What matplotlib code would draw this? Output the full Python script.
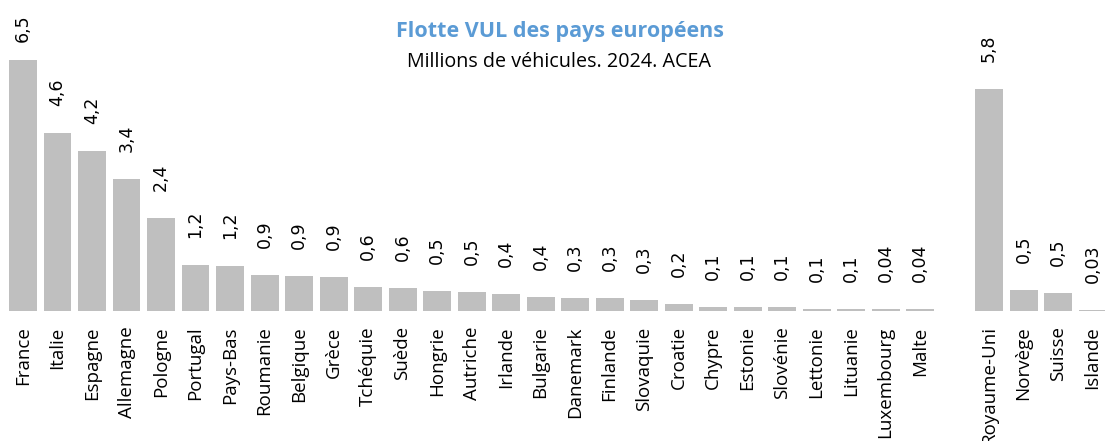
import matplotlib
matplotlib.use("Agg")
import matplotlib.pyplot as plt

# EU countries, then (after a gap) the rest of Europe
pays_ue = ["France", "Italie", "Espagne", "Allemagne", "Pologne", "Portugal", "Pays-Bas",
           "Roumanie", "Belgique", "Grèce", "Tchéquie", "Suède", "Hongrie", "Autriche",
           "Irlande", "Bulgarie", "Danemark", "Finlande", "Slovaquie", "Croatie", "Chypre",
           "Estonie", "Slovénie", "Lettonie", "Lituanie", "Luxembourg", "Malte"]
flotte_ue = [6.5, 4.6, 4.15, 3.42, 2.41, 1.19, 1.17, 0.93, 0.9, 0.88, 0.62, 0.6, 0.52, 0.5,
             0.44, 0.36, 0.34, 0.33, 0.28, 0.18, 0.1, 0.1, 0.1, 0.06, 0.06, 0.04, 0.04]
labels_ue = ["6,5", "4,6", "4,2", "3,4", "2,4", "1,2", "1,2", "0,9", "0,9", "0,9", "0,6", "0,6",
             "0,5", "0,5", "0,4", "0,4", "0,3", "0,3", "0,3", "0,2", "0,1", "0,1", "0,1", "0,1",
             "0,1", "0,04", "0,04"]

pays_hors = ["Royaume-Uni", "Norvège", "Suisse", "Islande"]
flotte_hors = [5.75, 0.54, 0.47, 0.03]
labels_hors = ["5,8", "0,5", "0,5", "0,03"]

W, H = 1105, 441
fig = plt.figure(figsize=(W / 100, H / 100), dpi=100)
base_px = 311
ax = fig.add_axes([0, 1 - base_px / H, 1, base_px / H])

noms = pays_ue + pays_hors
vals = flotte_ue + flotte_hors
labs = labels_ue + labels_hors
xs = list(range(len(pays_ue))) + [len(pays_ue) + 1 + i for i in range(len(pays_hors))]

ax.bar(xs, vals, width=0.81, color="#BFBFBF")
ax.set_xlim(-0.667, 31.36)
ax.set_ylim(0, base_px / 38.6)

for x, v, t in zip(xs, vals, labs):
    off = 18 if v > 6 else 27
    ax.annotate(t, (x, v), xytext=(0, off), textcoords="offset pixels",
                rotation=90, ha="center", va="bottom", fontsize=12.5,
                family="DejaVu Sans", color="black")

ax.set_xticks(xs)
ax.set_xticklabels(noms, rotation=90, fontsize=13.5, family="Open Sans", va="top")
ax.tick_params(axis="x", length=0, pad=11)
ax.set_yticks([])
for s in ax.spines.values():
    s.set_visible(False)

fig.text(560 / W, 1 - 37 / H, "Flotte VUL des pays européens", ha="center", va="baseline",
         fontsize=15.5, fontweight="bold", color="#5B9BD5", family="Open Sans")
fig.text(559 / W, 1 - 67 / H, "Millions de véhicules. 2024. ACEA", ha="center", va="baseline",
         fontsize=14.2, color="black", family="Open Sans")

fig.savefig("out.png", dpi=100)
